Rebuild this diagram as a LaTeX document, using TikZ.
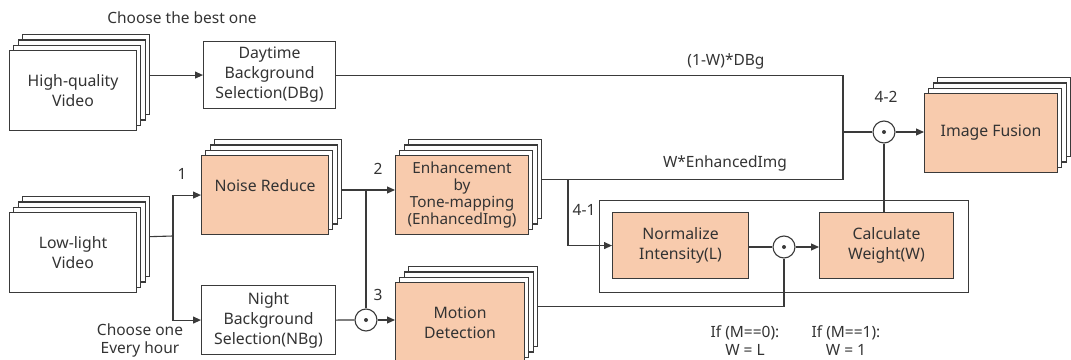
\documentclass[tikz,border=0pt]{standalone}
\usepackage{fontspec}
\setmainfont{Noto Sans}
\usetikzlibrary{arrows.meta,calc}
\definecolor{fillor}{HTML}{F8CBAD}
\definecolor{ln}{HTML}{3A3A3A}
\definecolor{tx}{HTML}{333333}
\tikzset{
  box/.style={draw=ln, line width=1.1pt, inner sep=1pt, align=center, text=tx,
    font=\fontsize{15.8}{20}\selectfont, anchor=north west},
  lbl/.style={text=tx, font=\fontsize{15.5}{18}\selectfont, align=center, inner sep=0pt},
  odot/.style={circle, draw=ln, line width=1.1pt, fill=white, minimum size=22pt, inner sep=0pt,
    path picture={\fill[ln] (path picture bounding box.center) circle (2pt);}},
  conn/.style={draw=ln, line width=1.1pt},
  arr/.style={conn, -{Triangle[length=8pt,width=7pt]}}
}
\newcommand{\stk}[7]{%
  \foreach \k in {3,2,1}{%
    \node[draw=ln, line width=1.1pt, fill=white, inner sep=0pt, anchor=north west,
      minimum width={(#4)-(#2)}, minimum height={(#5)-(#3)}] (#1-\k) at ({#2+4.3*\k},{#3-5.3*\k}) {};}
  \node[box, #6, minimum width={(#4)-(#2)}, minimum height={(#5)-(#3)}] (#1) at (#2,#3) {#7};
}
\begin{document}
\begin{tikzpicture}[x=1pt,y=-1pt]
\useasboundingbox (0,0) rectangle (1071,359);
\clip (0,0) rectangle (1071,359);

% group frame
\node[draw=ln, line width=1.1pt, inner sep=0pt, anchor=north west, minimum width=369, minimum height=92] (grp) at (599,200) {};

% stacked boxes
\stk{hq}{9}{50}{136}{130}{fill=white}{High-quality\\Video}
\stk{ll}{9}{212}{136}{292}{fill=white}{Low-light\\Video}
\stk{nr}{201}{155}{328}{234}{fill=fillor}{Noise Reduce\\\mbox{}}
\stk{enh}{395}{155}{528}{234}{fill=fillor, font=\fontsize{15.3}{16.8}\selectfont}{Enhancement\\by\\Tone-mapping\\(EnhancedImg)}
\stk{md}{395}{282}{524}{362}{fill=fillor}{Motion\\Detection}
\stk{fus}{924}{93}{1057}{172}{fill=fillor}{Image Fusion}

% single boxes
\node[box, fill=white, minimum width=132, minimum height=67] (dbg) at (203,41) {Daytime\\Background\\Selection(DBg)};
\node[box, fill=white, minimum width=134, minimum height=69] (nbg) at (201,285) {Night\\Background\\Selection(NBg)};
\node[box, fill=fillor, minimum width=136, minimum height=66] (ni) at (612,212) {Normalize\\Intensity(L)};
\node[box, fill=fillor, minimum width=134, minimum height=66] (cw) at (819,212) {Calculate\\Weight(W)};

% operators
\node[odot] (c1) at (366,320) {};
\node[odot] (c2) at (784,247) {};
\node[odot] (c3) at (884,132) {};

% junctions
\coordinate (j1) at (843,132);
\coordinate (j2) at (366,190);
\coordinate (j3) at (173,236);
\coordinate (j4) at (568,0);

% connectors
\draw[arr] (hq-3.east |- dbg.west) -- (dbg.west);
\draw[conn] (dbg.east) -| (j1) -- (c3.west);
\draw[conn] (enh-3.east) -| (j1);
\draw[arr] (enh-3.east -| j4) |- (ni.west);
\draw[conn] (ll-3.east) -- (j3);
\draw[arr] (j3) |- (nr.west);
\draw[arr] (j3) |- (nbg.west);
\draw[arr] (nr-3.east |- j2) -- (enh.west |- j2);
\draw[conn] (j2) -- (c1.north);
\draw[conn] (nbg.east) -- (c1.west);
\draw[arr] (c1.east) -- (md.west |- c1);
\draw[conn] (ni.east |- c2) -- (c2.west);
\draw[arr] (c2.east) -- (cw.west |- c2);
\draw[conn] (md-3.east) -| (c2.south);
\draw[conn] (c3.south) -- (c3.south |- cw.north);
\draw[arr] (c3.east) -- (fus.west |- c3);

% labels
\node[lbl] (t1) at (182,18) {Choose the best one};
\node[lbl] (t2) at (140,340) {Choose one\\Every hour};
\node[lbl] (t3) at (726,61) {(1-W)*DBg};
\node[lbl] (t4) at (725,163) {W*EnhancedImg};
\node[lbl] (t5) at (886,97) {4-2};
\node[lbl] (t6) at (182,174) {1};
\node[lbl] (t7) at (378,169) {2};
\node[lbl] (t8) at (378,295) {3};
\node[lbl] (t9) at (584,210) {4-1};
\node[lbl] (t10) at (745,341) {If (M==0):\\W = L};
\node[lbl] (t11) at (846,341) {If (M==1):\\W = 1};
\end{tikzpicture}
\end{document}
